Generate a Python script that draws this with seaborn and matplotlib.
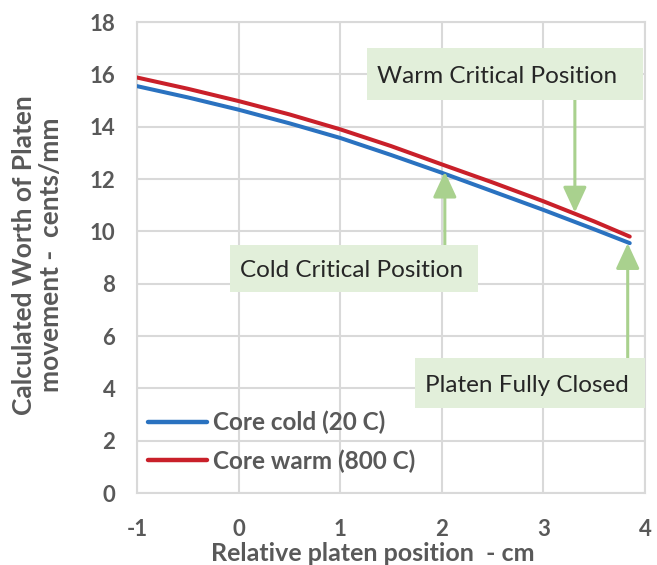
import matplotlib
matplotlib.use("Agg")
import matplotlib.pyplot as plt
from matplotlib.patches import Rectangle
import seaborn as sns
import pandas as pd

# Platen position (cm) and calculated worth (cents/mm)
position = [-1.0, -0.5, 0.0, 0.5, 1.0, 1.5, 2.0, 2.5, 3.0, 3.5, 3.85]
worth_cold = [15.55, 15.12, 14.65, 14.13, 13.57, 12.92, 12.24, 11.53, 10.82, 10.08, 9.55]
worth_warm = [15.88, 15.45, 14.98, 14.47, 13.90, 13.26, 12.56, 11.87, 11.15, 10.38, 9.80]
series_names = ["Core cold (20 C)", "Core warm (800 C)"]
series_colors = ["#2a72c0", "#c9202a"]

x_ticks = [-1, 0, 1, 2, 3, 4]
y_ticks = [0, 2, 4, 6, 8, 10, 12, 14, 16, 18]

# Callouts: label, box extent (x0, x1, y0, y1), arrow x, arrow start y, arrow tip y
callout_labels = ["Warm Critical Position", "Cold Critical Position", "Platen Fully Closed"]
callout_box = [(1.264, 3.98, 15.02, 17.0), (-0.085, 2.356, 7.68, 9.48), (1.736, 4.0, 3.25, 5.16)]
callout_arrow_x = [3.31, 2.03, 3.83]
callout_tail_y = [15.02, 9.48, 5.16]
callout_tip_y = [10.72, 12.28, 9.55]

df = pd.DataFrame({
    "position": position * 2,
    "worth": worth_cold + worth_warm,
    "series": [series_names[0]] * len(position) + [series_names[1]] * len(position),
})

sns.set_theme(style="white")
plt.rcParams["font.family"] = ["Lato", "DejaVu Sans"]
plt.rcParams["axes.unicode_minus"] = False

fig = plt.figure(figsize=(6.57, 5.65), dpi=100)
ax = fig.add_axes([0.2085, 0.1274, 0.7732, 0.8336])

sns.lineplot(data=df, x="position", y="worth", hue="series",
             palette=series_colors, linewidth=2.9, ax=ax, zorder=3)

grid_c = "#d9d9d9"
gray_txt = "#595959"
ax.set_xlim(-1, 4)
ax.set_ylim(0, 18)
ax.set_xticks(x_ticks)
ax.set_yticks(y_ticks)
ax.grid(True, color=grid_c, linewidth=1.5)
ax.set_axisbelow(True)
for s in ax.spines.values():
    s.set_color(grid_c)
    s.set_linewidth(1.5)
ax.tick_params(axis="x", length=0, pad=19, labelsize=16, labelcolor=gray_txt)
ax.tick_params(axis="y", length=0, pad=15.5, labelsize=16, labelcolor=gray_txt)
for lab in ax.get_xticklabels() + ax.get_yticklabels():
    lab.set_fontweight("bold")

ax.set_xlabel("Relative platen position  - cm", fontsize=18, fontweight="bold",
              color=gray_txt)
ax.xaxis.set_label_coords(0.465, -0.105)
ax.set_ylabel("Calculated Worth of Platen\nmovement -  cents/mm", fontsize=19,
              fontweight="bold", color=gray_txt, linespacing=1.15)
ax.yaxis.set_label_coords(-0.146, 0.505)

leg = ax.legend(loc="lower left", bbox_to_anchor=(0.0, 0.02), frameon=False,
                fontsize=17.5, handlelength=2.43, handletextpad=0.25,
                labelspacing=0.62, borderaxespad=0.0, borderpad=0.45)
for t in leg.get_texts():
    t.set_color(gray_txt)
    t.set_fontweight("bold")
for h in leg.get_lines():
    h.set_linewidth(3.2)

arrow_c = "#a9d18e"
box_c = "#e2efda"
for label, (x0, x1, y0, y1), ax_x, y_tail, y_tip in zip(
        callout_labels, callout_box, callout_arrow_x, callout_tail_y, callout_tip_y):
    ax.add_patch(Rectangle((x0, y0), x1 - x0, y1 - y0, facecolor=box_c,
                           edgecolor="none", zorder=5))
    ax.text(x0 + 0.1, (y0 + y1) / 2 - 0.08, label, ha="left", va="center",
            fontsize=17.5, color="#262626", zorder=6)
    ax.annotate("", xy=(ax_x, y_tip), xytext=(ax_x, y_tail),
                arrowprops=dict(arrowstyle="-|>,head_length=1.3,head_width=0.6",
                                color=arrow_c, lw=2.2, shrinkA=0, shrinkB=0),
                zorder=4)

fig.savefig("out.png", dpi=100, facecolor="white")
